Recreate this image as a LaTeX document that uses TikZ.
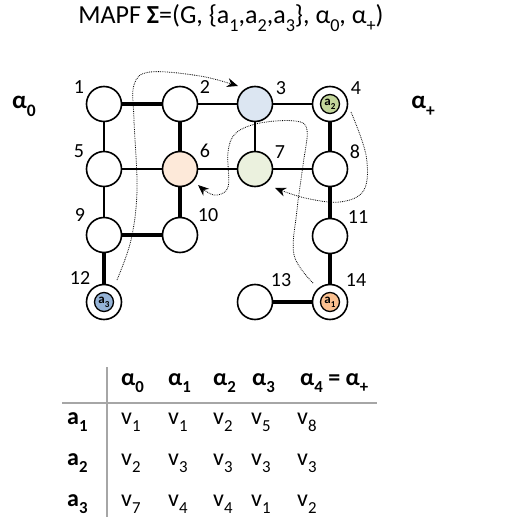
\documentclass[tikz,border=0pt]{standalone}
\usepackage{fontspec}
\setmainfont{Carlito}
\usepackage{graphicx}
\usetikzlibrary{arrows.meta}
\newcommand\sbs[1]{\raisebox{-0.32em}{\scalebox{0.7}{#1}}}
\definecolor{cblue}{HTML}{DCE6F2}
\definecolor{cpeach}{HTML}{FDE9D9}
\definecolor{cgreen}{HTML}{EBF1DE}
\definecolor{agreen}{HTML}{C3D69B}
\definecolor{ablue}{HTML}{95B3D7}
\definecolor{aorange}{HTML}{FAC090}
\definecolor{tgray}{HTML}{A6A6A6}
\begin{document}
\begin{tikzpicture}[x=1pt,y=-1pt,
  vtx/.style={circle,draw=black,line width=1.6pt,minimum size=35pt,inner sep=0pt,fill=white},
  agent/.style={circle,draw=black,line width=1.3pt,minimum size=19pt,inner sep=0pt,font=\bfseries\fontsize{13}{13}\selectfont},
  num/.style={font=\fontsize{20}{20}\selectfont},
  ethin/.style={line width=2.6pt},
  ethick/.style={line width=4.3pt},
  move/.style={densely dotted,line width=0.8pt,-{Stealth[length=11pt,width=9pt]}},
  big/.style={font=\bfseries\fontsize{25}{25}\selectfont},
  cell/.style={anchor=base west,inner sep=0pt,font=\fontsize{24}{24}\selectfont},
  hcell/.style={cell,font=\bfseries\fontsize{24}{24}\selectfont}]
\useasboundingbox (0,0) rectangle (517,518);
% title
\node[font=\fontsize{26}{26}\selectfont] (title) at (231,18) {MAPF \textbf{Σ}=(G, \{a\sbs{1},a\sbs{2},a\sbs{3}\}, α\sbs{0}, α\sbs{+})};
\node[big] (a0) at (24,106) {α\sbs{0}};
\node[big] (ap) at (423,106) {α\sbs{+}};
% vertices
\node[vtx] (n1) at (104,104) {};
\node[vtx] (n2) at (180,104) {};
\node[vtx,fill=cblue] (n3) at (255,104) {};
\node[vtx] (n4) at (330,104) {};
\node[vtx] (n5) at (104,169) {};
\node[vtx,fill=cpeach] (n6) at (180,169) {};
\node[vtx,fill=cgreen] (n7) at (255,169) {};
\node[vtx] (n8) at (330,169) {};
\node[vtx] (n9) at (104,235) {};
\node[vtx] (n10) at (180,235) {};
\node[vtx] (n11) at (330,236) {};
\node[vtx] (n12) at (104,302) {};
\node[vtx] (n13) at (255,302) {};
\node[vtx] (n14) at (330,302) {};
% agents
\node[agent,fill=agreen] (ag2) at (n4) {a\sbs{2}};
\node[agent,fill=ablue] (ag3) at (n12) {a\sbs{3}};
\node[agent,fill=aorange] (ag1) at (n14) {a\sbs{1}};
% numbers
\node[num] (l1) at (79,87) {1};
\node[num] (l2) at (205,87) {2};
\node[num] (l3) at (281,88) {3};
\node[num] (l4) at (356,88) {4};
\node[num] (l5) at (79,151) {5};
\node[num] (l6) at (205,151) {6};
\node[num] (l7) at (280,152) {7};
\node[num] (l8) at (355,152) {8};
\node[num] (l9) at (80,215) {9};
\node[num] (l10) at (208,215) {10};
\node[num] (l11) at (358,217) {11};
\node[num] (l12) at (80,278) {12};
\node[num] (l13) at (281,280) {13};
\node[num] (l14) at (356,280) {14};
% edges
\draw[ethick] (n1) -- (n2);
\draw[ethin] (n2) -- (n3);
\draw[ethin] (n3) -- (n4);
\draw[ethin] (n1) -- (n5);
\draw[ethick] (n2) -- (n6);
\draw[ethin] (n3) -- (n7);
\draw[ethick] (n4) -- (n8);
\draw[ethin] (n5) -- (n6);
\draw[ethin] (n6) -- (n7);
\draw[ethin] (n7) -- (n8);
\draw[ethin] (n5) -- (n9);
\draw[ethick] (n6) -- (n10);
\draw[ethick] (n8) -- (n11);
\draw[ethick] (n9) -- (n10);
\draw[ethick] (n9) -- (n12);
\draw[ethick] (n11) -- (n14);
\draw[ethick] (n13) -- (n14);
% moves
\coordinate (s3) at (117,280);
\coordinate (t3) at (238,86);
\draw[move] plot[smooth,tension=0.6] coordinates {(s3) (131,240) (137,190) (134,120) (134,85) (150,72) (200,76) (t3)};
\coordinate (s2) at (351,112);
\coordinate (t2) at (275,188);
\draw[move] plot[smooth,tension=0.6] coordinates {(s2) (366,155) (364,190) (340,202) (305,198) (t2)};
\coordinate (s1) at (313,283);
\coordinate (t1) at (198,185);
\draw[move] plot[smooth,tension=0.6] coordinates {(s1) (294,255) (297,210) (303,165) (307,130) (295,121) (260,123) (236,133) (228,152) (228,187) (214,195) (t1)};
% table
\coordinate (vt) at (107,367);
\coordinate (vb) at (107,517);
\coordinate (hl) at (62,403);
\coordinate (hr) at (377,403);
\draw[tgray,line width=1.5pt] (vt) -- (vb);
\draw[tgray,line width=1.5pt] (hl) -- (hr);
\node[hcell] (h0) at (121,385) {α\sbs{0}};
\node[hcell] (h1) at (168,385) {α\sbs{1}};
\node[hcell] (h2) at (213,385) {α\sbs{2}};
\node[hcell] (h3) at (252,385) {α\sbs{3}};
\node[hcell] (h4) at (300,385) {α\sbs{4} = α\sbs{+}};
\node[hcell] (r1) at (67,424) {a\sbs{1}};
\node[hcell] (r2) at (67,465) {a\sbs{2}};
\node[hcell] (r3) at (67,506) {a\sbs{3}};
\node[cell] (c10) at (121,424) {v\sbs{1}};
\node[cell] (c11) at (168,424) {v\sbs{1}};
\node[cell] (c12) at (213,424) {v\sbs{2}};
\node[cell] (c13) at (251,424) {v\sbs{5}};
\node[cell] (c14) at (297,424) {v\sbs{8}};
\node[cell] (c20) at (121,465) {v\sbs{2}};
\node[cell] (c21) at (168,465) {v\sbs{3}};
\node[cell] (c22) at (213,465) {v\sbs{3}};
\node[cell] (c23) at (251,465) {v\sbs{3}};
\node[cell] (c24) at (297,465) {v\sbs{3}};
\node[cell] (c30) at (121,506) {v\sbs{7}};
\node[cell] (c31) at (168,506) {v\sbs{4}};
\node[cell] (c32) at (213,506) {v\sbs{4}};
\node[cell] (c33) at (251,506) {v\sbs{1}};
\node[cell] (c34) at (297,506) {v\sbs{2}};
\end{tikzpicture}
\end{document}
